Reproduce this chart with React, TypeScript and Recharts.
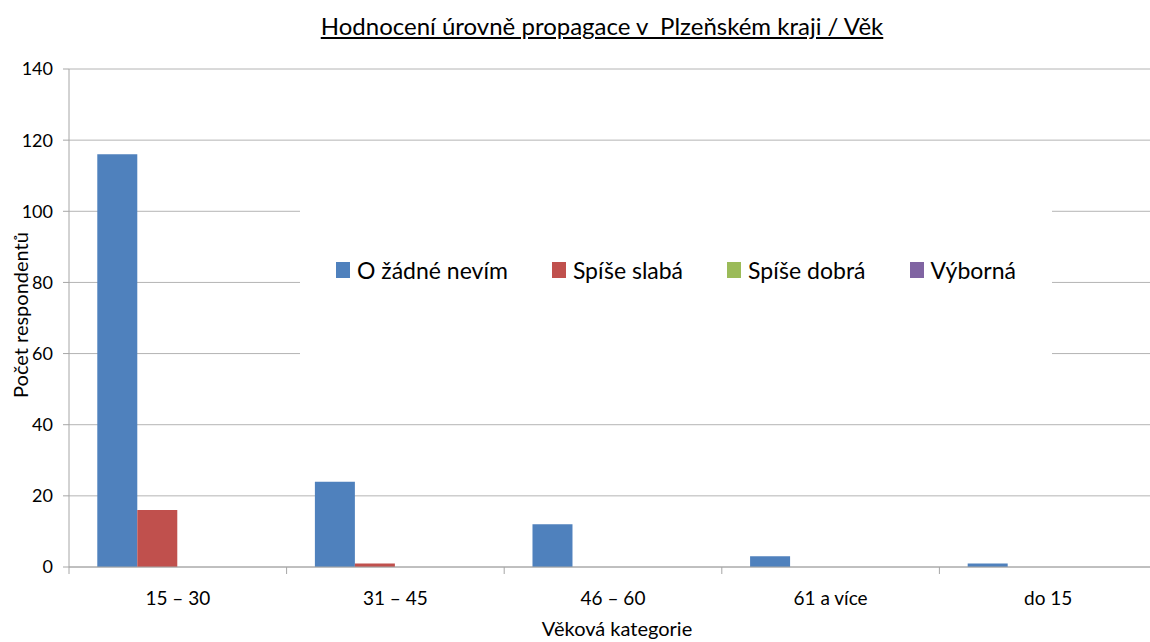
import React from 'react';
import { BarChart, Bar, XAxis, YAxis, CartesianGrid, Legend } from 'recharts';

const categories = ['15 – 30', '31 – 45', '46 – 60', '61 a více', 'do 15'];
const ozadneNevim = [116, 24, 12, 3, 1];
const spiseSlaba = [16, 1, 0, 0, 0];
const spiseDobra = [0, 0, 0, 0, 0];
const vyborna = [0, 0, 0, 0, 0];
const yTicks = [0, 20, 40, 60, 80, 100, 120, 140];

const series = [
  { key: 'a', name: 'O žádné nevím', color: '#4F81BD' },
  { key: 'b', name: 'Spíše slabá', color: '#C0504D' },
  { key: 'c', name: 'Spíše dobrá', color: '#9BBB59' },
  { key: 'd', name: 'Výborná', color: '#8064A2' },
];

const data = categories.map((cat, i) => ({
  cat,
  a: ozadneNevim[i],
  b: spiseSlaba[i],
  c: spiseDobra[i],
  d: vyborna[i],
}));

const W = 1160;
const H = 642;
const FONT = 'Lato, "Open Sans", sans-serif';
const AXIS = '#a6a6a6';
const GRID = '#b4b4b4';
const M = { top: 69, right: 3, left: 9, bottom: 0 };
const Y_W = 60;
const BAND = (W - M.left - M.right - Y_W) / categories.length;

const XTick = (props: any) => {
  const { x, y, payload } = props;
  return (
    <g>
      <line x1={x - BAND / 2} x2={x - BAND / 2} y1={y} y2={y + 7} stroke={AXIS} />
      <text x={x} y={y + 38} textAnchor="middle" fontSize={19} fill="#000" fontFamily={FONT}>
        {payload.value}
      </text>
    </g>
  );
};

const LegendBox = () => (
  <div
    style={{
      background: '#fff',
      width: 752,
      height: 170,
      display: 'flex',
      alignItems: 'center',
      justifyContent: 'center',
      fontFamily: FONT,
      fontSize: 23,
      color: '#000',
    }}
  >
    {series.map((s) => (
      <span key={s.key} style={{ display: 'flex', alignItems: 'center', margin: '0 22px' }}>
        <span style={{ width: 14, height: 16, background: s.color, marginRight: 7, display: 'inline-block' }} />
        {s.name}
      </span>
    ))}
  </div>
);

export default function App() {
  return (
    <div style={{ position: 'absolute', left: 0, top: 0, width: 1150, height: H, overflow: 'hidden', background: '#fff' }}>
      <div
        style={{
          position: 'absolute',
          left: 0,
          width: 1204,
          top: 11,
          textAlign: 'center',
          fontFamily: FONT,
          fontSize: 24,
          textDecoration: 'underline',
          color: '#000',
          whiteSpace: 'pre',
        }}
      >
        {'Hodnocení úrovně propagace v  Plzeňském kraji / Věk'}
      </div>
      <div
        style={{
          position: 'absolute',
          left: 20,
          top: 315,
          transform: 'translate(-50%, -50%) rotate(-90deg)',
          fontFamily: FONT,
          fontSize: 20,
          color: '#000',
          whiteSpace: 'nowrap',
        }}
      >
        Počet respondentů
      </div>
      <div
        style={{
          position: 'absolute',
          left: 0,
          width: 1234,
          top: 616,
          textAlign: 'center',
          fontFamily: FONT,
          fontSize: 20,
          color: '#000',
        }}
      >
        Věková kategorie
      </div>
      <BarChart width={W} height={H} data={data} margin={M} barCategoryGap="13%" barGap={0}>
        <CartesianGrid vertical={false} stroke={GRID} />
        <XAxis
          dataKey="cat"
          height={75}
          stroke={AXIS}
          tickLine={false}
          tickSize={0}
          tickMargin={0}
          tick={<XTick />}
          interval={0}
        />
        <YAxis
          width={Y_W}
          domain={[0, 140]}
          ticks={yTicks}
          stroke={AXIS}
          tickSize={6}
          tickMargin={10}
          tick={{ fontSize: 18, fill: '#000', fontFamily: FONT }}
        />
        <Legend
          layout="horizontal"
          verticalAlign="middle"
          align="center"
          content={<LegendBox />}
          wrapperStyle={{ left: 300, top: 185, width: 752, height: 170 }}
        />
        {series.map((s) => (
          <Bar key={s.key} dataKey={s.key} name={s.name} fill={s.color} isAnimationActive={false} />
        ))}
      </BarChart>
    </div>
  );
}
